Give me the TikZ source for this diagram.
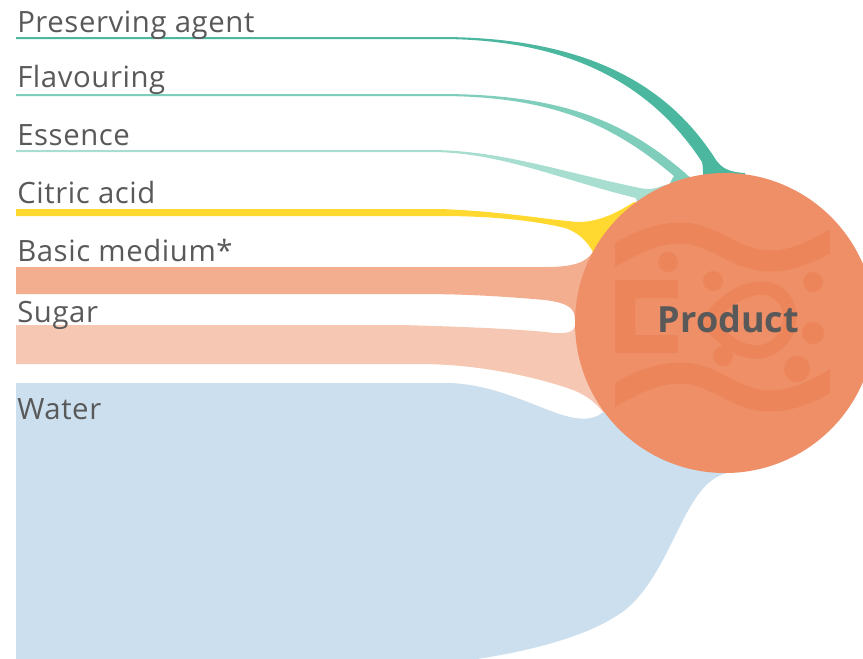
\documentclass[tikz,border=0pt]{standalone}
\usepackage{fontspec}
\setmainfont{Open Sans}
\newfontfamily\labelfont{Open Sans}[LetterSpace=2]
\usepackage{tikz}
\usetikzlibrary{positioning}
\usepackage{xcolor}

\definecolor{preserve}{HTML}{4BB79E}
\definecolor{flavour}{HTML}{7FCDBB}
\definecolor{essence}{HTML}{A8DECF}
\definecolor{citric}{HTML}{FFD92F}
\definecolor{basic}{HTML}{F2AE8E}
\definecolor{sugar}{HTML}{F6C8B3}
\definecolor{water}{HTML}{CBDFEE}
\definecolor{product}{HTML}{EE8F68}
\definecolor{productmark}{HTML}{EC8559}
\definecolor{labeltext}{HTML}{595959}

\tikzset{
  ingredient/.style={anchor=base west, inner sep=0pt, text=labeltext,
    font=\labelfont\fontsize{22}{26}\selectfont},
  wave/.style={productmark, line width=15.75pt},
}

\begin{document}
\begin{tikzpicture}[x=0.75pt, y=-0.75pt]
    \useasboundingbox (0,0) rectangle (863,658);

    % flows into the product, largest first
    \fill[water] (16,383) -- (450,383) .. controls (500,385) and (540,410) .. (570,417)
        .. controls (588,421) and (598,417) .. (603,412) -- (700,430) -- (733,472)
        .. controls (712,474) and (698,490) .. (682,522)
        .. controls (665,556) and (650,590) .. (625,610)
        .. controls (595,633) and (540,650) .. (470,660) -- (16,660) -- cycle;
    \fill[sugar] (16,325) -- (400,325) .. controls (480,327) and (530,330) .. (555,333)
        .. controls (568,334) and (574,331) .. (575,326) -- (640,330) -- (640,400) -- (603,412)
        .. controls (597,404) and (588,396) .. (573,390)
        .. controls (540,378) and (480,364) .. (420,364) -- (16,364) -- cycle;
    \fill[basic] (16,267) -- (545,267) .. controls (575,267) and (586,262) .. (593,252)
        -- (650,260) -- (650,320) -- (575,320) .. controls (575,308) and (568,303) .. (545,300)
        .. controls (500,296) and (460,294) .. (420,294) -- (16,294) -- cycle;
    \fill[citric] (16,209) -- (440,209) .. controls (500,211) and (550,220) .. (578,222)
        .. controls (600,222) and (618,212) .. (634,202) -- (660,215) -- (650,262) -- (593,252)
        .. controls (588,243) and (580,233) .. (565,228)
        .. controls (540,222) and (500,216) .. (440,216) -- (16,216) -- cycle;
    \fill[essence] (16,150) -- (430,150) .. controls (500,150) and (562,172) .. (640,188)
        .. controls (648,190) and (655,189) .. (665,185) -- (680,210) -- (640,215) -- (636,198)
        .. controls (558,179) and (500,152) .. (430,152) -- (16,152) -- cycle;
    \fill[flavour] (16,94) -- (440,94) .. controls (563,94) and (625,122) .. (684,172)
        .. controls (688,177) and (694,180) .. (706,180) -- (706,200) -- (668,200) -- (668,188)
        .. controls (670,183) and (672,179) .. (674,176)
        .. controls (617,128) and (557,96) .. (440,96) -- (16,96) -- cycle;
    \fill[preserve] (16,37) -- (440,37) .. controls (585,37) and (668,84) .. (716,160)
        .. controls (722,168) and (728,172) .. (745,173) -- (745,200) -- (703,200) -- (703,176)
        .. controls (703,170) and (703,166) .. (702,162)
        .. controls (655,90) and (577,39) .. (440,39) -- (16,39) -- cycle;

    % ingredient labels
    \node[ingredient] (preserving) at (17,32) {Preserving agent};
    \node[ingredient] (flavouring) at (17,87) {Flavouring};
    \node[ingredient] (essencelbl) at (17,145) {Essence};
    \node[ingredient] (citriclbl) at (17,203) {Citric acid};
    \node[ingredient] (basiclbl) at (17,261) {Basic medium*};
    \node[ingredient] (sugarlbl) at (17,322) {Sugar};
    \node[ingredient] (waterlbl) at (17,419) {Water};

    % product circle with its faint icon
    \node[circle, fill=product, minimum size=225pt, inner sep=0pt] (prod) at (725,323) {};
    \begin{scope}
        \clip (prod.center) circle (112.5pt);
        \fill[productmark] (678,280) -- (615,280) -- (615,353) -- (678,353) -- (678,335)
            -- (635,335) -- (635,298) -- (678,298) -- cycle;
        \begin{scope}
            \clip (615,200) rectangle (830,450);
            \draw[wave] (600,264) .. controls (630,245) and (655,233) .. (680,233)
                .. controls (715,233) and (735,261) .. (770,261)
                .. controls (795,261) and (815,250) .. (845,233);
            \draw[wave] (600,404) .. controls (630,385) and (655,373) .. (680,373)
                .. controls (715,373) and (735,401) .. (770,401)
                .. controls (795,401) and (815,390) .. (845,373);
        \end{scope}
        \draw[productmark, line width=10pt] (708,322) .. controls (730,290) and (770,275) .. (786,302)
            .. controls (798,325) and (780,352) .. (757,352)
            .. controls (737,352) and (722,338) .. (708,322) -- cycle;
        \foreach \x/\y/\r in {668/262/10, 713/281/10, 813/282/10, 813/333/11, 723/356/10, 797/369/13}
            \fill[productmark] (\x,\y) circle [radius=\r*0.75pt];
    \end{scope}
    \node[anchor=base, inner sep=0pt, text=labeltext, font=\fontsize{27}{32}\selectfont\bfseries]
        (prodlbl) at (728.5,332) {Product};
\end{tikzpicture}
\end{document}
